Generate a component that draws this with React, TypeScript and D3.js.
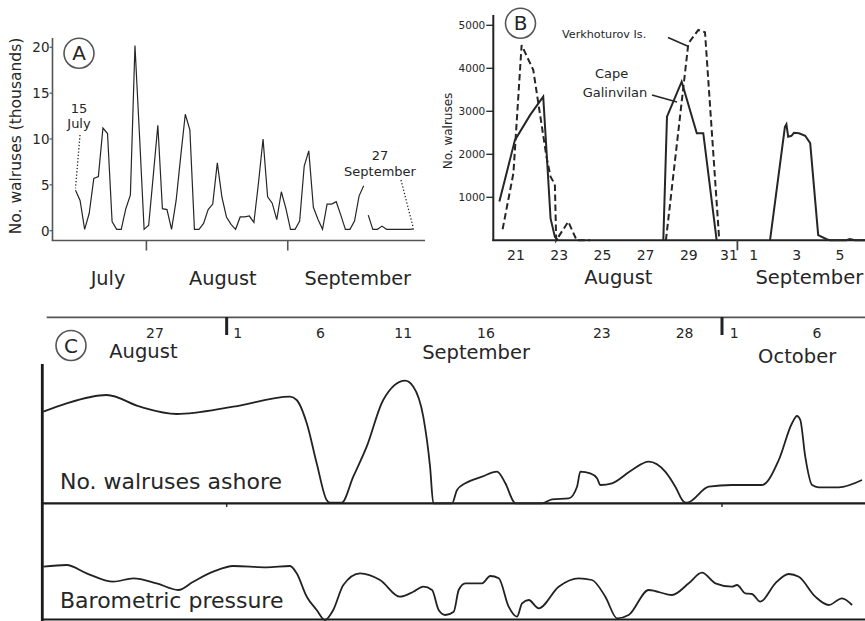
import React from 'react';
import * as d3 from 'd3';

// ---------- Panel A: daily counts, day index 0 = 15 July ----------
const aYTicks = [0, 5, 10, 15, 20];
const aMonths = ['July', 'August', 'September'];
const aMonthCenters = [7.1, 32.2, 61.7];
const aMonthBounds = [15.5, 46.4];
const aSeg1 = [
  4.4, 3.3, 0.15, 1.9, 5.7, 5.9, 11.2, 10.6, 1.0, 0.15,
  0.15, 2.4, 3.9, 20.2, 10.3, 0.15, 0.6, 6.0, 11.5, 2.4,
  2.3, 0.15, 3.3, 8.1, 12.7, 11.0, 0.15, 0.15, 0.8, 2.3,
  2.9, 7.4, 3.7, 1.5, 0.7, 0.15, 1.5, 1.5, 1.6, 0.9,
  5.2, 10.0, 3.7, 3.0, 1.2, 4.25, 2.4, 0.15, 0.15, 1.05,
  7.05, 8.7, 2.55, 1.24, 0.15, 2.9, 2.9, 3.16, 1.7, 0.15,
  0.15, 1.05, 3.8, 4.9,
];
const aSeg2Start = 64;
const aSeg2 = [1.7, 0.15, 0.15, 0.5, 0.15, 0.15, 0.15, 0.15, 0.15, 0.15, 0.2];
const aStartNote = ['15', 'July'];
const aEndNote = ['27', 'September'];

// ---------- Panel B: day numbers (Sep 1 = 32) ----------
const bYTicks = [1000, 2000, 3000, 4000, 5000];
const bDayTicks = [21, 23, 25, 27, 29, 31, 32, 34, 36];
const bDayLabels = ['21', '23', '25', '27', '29', '31', '1', '3', '5'];
const bMonthBound = 31.25;
const bMonths = ['August', 'September'];
const bMonthCenters = [25.74, 34.58];
const capeGalinvilan: [number, number][][] = [
  [[20.23, 900], [20.95, 2330], [21.65, 2910], [22.26, 3340], [22.41, 2100], [22.6, 510], [22.8, 80], [22.95, 0]],
  [[27.82, 0], [27.99, 2875], [28.67, 3690], [29.37, 2490], [29.67, 2490], [30.29, 0]],
  [[32.76, 0], [33.45, 2640], [33.52, 2700], [33.6, 2410], [33.75, 2430], [33.87, 2500], [34.1, 2490], [34.39, 2430],
    [34.62, 2260], [34.99, 120], [35.38, 25], [35.53, 0], [36.3, 0], [36.45, 30], [36.7, 0], [37.3, 0]],
];
const verkhoturov: [number, number][][] = [
  [[20.38, 256], [20.88, 1560], [21.26, 4540], [21.8, 3960], [22.41, 1945], [22.6, 1480], [22.8, 1300], [22.86, 0],
    [23.42, 433], [23.81, 0], [24.43, 0]],
  [[27.94, 0], [28.98, 4580], [29.44, 4890], [29.75, 4840], [30.41, 0]],
];

// ---------- Panel C: day offset from 27 August ----------
const cDayTicks = [0, 5, 10, 15, 20, 27, 32, 35, 40];
const cDayLabels = ['27', '1', '6', '11', '16', '23', '28', '1', '6'];
const cMonthBounds = [4.33, 34.26];
const cMonths = ['August', 'September', 'October'];
const cMonthCenters = [-0.7, 19.4, 38.8];
const walrusesAshore: [number, number][] = [
  [-6.75, 91.6], [-5.34, 100], [-2.92, 108.3], [-0.91, 96.6], [1.31, 89.3], [4.73, 96.6], [8.16, 106.6], [8.56, 103.3],
  [9.17, 80], [9.77, 40], [10.37, 3.3], [10.57, 0.6], [11.28, 0.6], [11.98, 26.6], [12.79, 56.6], [13.79, 103.3],
  [15.11, 122.6], [15.61, 116.6], [16.21, 86.6], [16.62, 36.6], [16.82, 0], [17.95, 0], [18.25, 13.3], [18.75, 20],
  [19.76, 26.6], [20.66, 31.6], [21.17, 20], [21.67, 1.6], [21.77, 0], [23.38, 0], [23.99, 4], [25, 5], [25.5, 16.6],
  [25.7, 31.6], [26.3, 30], [26.71, 25], [26.91, 18.3], [27.61, 20], [28.82, 33.3], [29.83, 41.6], [30.83, 31.6],
  [31.44, 16.6], [31.95, 1.6], [32.15, 0.6], [33.46, 16.6], [34.86, 18.3], [36.68, 18.3], [37.69, 43.3], [38.49, 80],
  [38.79, 87.3], [38.99, 83.3], [39.29, 46.6], [39.7, 18.3], [40.1, 16], [41.31, 16], [42.72, 23.3],
];
const barometricPressure: [number, number][] = [
  [-6.75, 53.3], [-5.34, 55], [-4.13, 46.7], [-2.52, 38.3], [-1.31, 41.7], [0.1, 36.7], [1.41, 30], [2.31, 38.3],
  [3.52, 48.3], [4.73, 54], [6.75, 52.7], [8.16, 54], [8.56, 46.7], [9.17, 23.3], [9.77, 10], [10.27, 0], [10.77, 10],
  [11.38, 35], [12.39, 46.7], [13.6, 40], [14.8, 23.3], [15.61, 28.3], [16.21, 33.3], [16.74, 30], [17.14, 10],
  [17.54, 5], [18.05, 8.3], [18.35, 30], [18.75, 36.7], [19.76, 36.7], [20.26, 44], [20.77, 41.7], [21.37, 13.3],
  [21.87, 3.3], [22.18, 16.7], [22.58, 20], [23.18, 11.7], [24.39, 33.3], [25.6, 41.7], [26.4, 40], [27.21, 23.3],
  [27.92, 1.7], [28.62, 5], [29.83, 30], [31.24, 25], [32.25, 36.7], [33.05, 47.3], [33.86, 36.7], [34.86, 33.3],
  [35.17, 35], [35.67, 26.7], [36.07, 26], [36.57, 18.3], [37.48, 36.7], [38.29, 46], [38.9, 43.3], [39.9, 23.3],
  [40.71, 15], [41.51, 21.7], [42.12, 15],
];

const FONT = '"DejaVu Sans", Verdana, sans-serif';
const INK = '#262626';

function Circled({ cx, cy, letter }: { cx: number; cy: number; letter: string }) {
  return (
    <g>
      <circle cx={cx} cy={cy} r={15} fill="none" stroke="#555" strokeWidth={1.6} />
      <text x={cx} y={cy + 7} textAnchor="middle" fontSize={20} fill={INK}>{letter}</text>
    </g>
  );
}

export default function App() {
  // Panel A scales
  const xA = d3.scaleLinear().domain([0, 74]).range([75.5, 414]);
  const yA = d3.scaleLinear().domain([0, 20]).range([230.7, 47.3]);
  const lineA = d3.line<[number, number]>().x(d => xA(d[0])).y(d => yA(d[1]));
  const a1: [number, number][] = aSeg1.map((v, i) => [i, v]);
  const a2: [number, number][] = aSeg2.map((v, i) => [aSeg2Start + i, v]);
  const aAxisY = 240.5;
  const aAxisX = 52.5;

  // Panel B scales
  const xB = d3.scaleLinear().domain([21, 36]).range([516, 840]);
  const yB = d3.scaleLinear().domain([0, 5000]).range([240.3, 25.3]);
  const lineB = d3.line<[number, number]>().x(d => xB(d[0])).y(d => yB(d[1]));
  const bAxisX = 493.3;

  // Panel C scales
  const xC = d3.scaleLinear().domain([0, 40]).range([155, 817]);
  const yCW = d3.scaleLinear().domain([0, 100]).range([503.3, 403.3]);
  const yCP = d3.scaleLinear().domain([0, 100]).range([620, 520]);
  const lineCW = d3.line<[number, number]>().x(d => xC(d[0])).y(d => yCW(d[1])).curve(d3.curveMonotoneX);
  const lineCP = d3.line<[number, number]>().x(d => xC(d[0])).y(d => yCP(d[1])).curve(d3.curveMonotoneX);

  return (
    <svg width={865} height={621} style={{ position: 'absolute', left: 0, top: 0, display: 'block', background: '#fff' }}
      fontFamily={FONT}>
      <rect x={0} y={0} width={865} height={621} fill="#fff" />

      {/* ================= Panel A ================= */}
      <g>
        <line x1={aAxisX} y1={38} x2={aAxisX} y2={aAxisY} stroke="#555" strokeWidth={1.6} />
        <line x1={aAxisX - 0.8} y1={aAxisY} x2={425} y2={aAxisY} stroke="#555" strokeWidth={1.6} />
        {aYTicks.map(t => (
          <g key={t}>
            <line x1={aAxisX - 3} x2={aAxisX} y1={yA(t)} y2={yA(t)} stroke="#555" strokeWidth={1.2} />
            <text x={aAxisX - 3} y={yA(t) + 4.8} textAnchor="end" fontSize={13.5} fill={INK}>{t}</text>
          </g>
        ))}
        {aMonthBounds.map((b, i) => (
          <line key={i} x1={xA(b)} x2={xA(b)} y1={aAxisY} y2={aAxisY + 10} stroke="#555" strokeWidth={1.6} />
        ))}
        {aMonths.map((m, i) => (
          <text key={m} x={xA(aMonthCenters[i])} y={285} textAnchor="middle" fontSize={19.3} fill={INK}>{m}</text>
        ))}
        <text transform="translate(20.5,136) rotate(-90)" textAnchor="middle" fontSize={15.5} fill={INK}>
          No. walruses (thousands)
        </text>
        <path d={lineA(a1) || ''} fill="none" stroke={INK} strokeWidth={1.2} strokeLinejoin="miter" />
        <path d={lineA(a2) || ''} fill="none" stroke={INK} strokeWidth={1.2} />
        {/* annotations */}
        <text x={xA(0) + 3.5} y={113} textAnchor="middle" fontSize={13} fill={INK}>{aStartNote[0]}</text>
        <text x={xA(0) + 3.5} y={128} textAnchor="middle" fontSize={13} fill={INK}>{aStartNote[1]}</text>
        <line x1={xA(0) + 4.5} y1={135} x2={xA(0)} y2={yA(aSeg1[0]) - 2} stroke={INK} strokeWidth={1.3}
          strokeDasharray="1.3,2" />
        <text x={380} y={160} textAnchor="middle" fontSize={13} fill={INK}>{aEndNote[0]}</text>
        <text x={380} y={175.5} textAnchor="middle" fontSize={13} fill={INK}>{aEndNote[1]}</text>
        <line x1={401} y1={180} x2={xA(74) - 1} y2={yA(aSeg2[aSeg2.length - 1]) - 2} stroke={INK} strokeWidth={1.3}
          strokeDasharray="1.3,2" />
        <Circled cx={79} cy={53.3} letter="A" />
      </g>

      {/* ================= Panel B ================= */}
      <g>
        <line x1={bAxisX} y1={15} x2={bAxisX} y2={241} stroke="#222" strokeWidth={2} />
        <line x1={bAxisX - 1} y1={yB(0)} x2={865} y2={yB(0)} stroke="#222" strokeWidth={2} />
        {bYTicks.map(t => (
          <g key={t}>
            <line x1={bAxisX - 7} x2={bAxisX} y1={yB(t)} y2={yB(t)} stroke="#222" strokeWidth={1.3} />
            <text x={bAxisX - 8} y={yB(t) + 3.8} textAnchor="end" fontSize={10.5} fill={INK}>{t}</text>
          </g>
        ))}
        <line x1={xB(bMonthBound)} x2={xB(bMonthBound)} y1={yB(0)} y2={yB(0) + 10} stroke="#444" strokeWidth={1.8} />
        {bDayTicks.map((d, i) => (
          <text key={i} x={xB(d) - (bDayLabels[i] === '31' ? 3 : 0)} y={260} textAnchor="middle" fontSize={14}
            fill={INK}>{bDayLabels[i]}</text>
        ))}
        {bMonths.map((m, i) => (
          <text key={m} x={xB(bMonthCenters[i])} y={283.5} textAnchor="middle" fontSize={19.5} fill={INK}>{m}</text>
        ))}
        <text transform="translate(452,131) rotate(-90)" textAnchor="middle" fontSize={12} fill={INK}>No. walruses</text>
        {verkhoturov.map((seg, i) => (
          <path key={'v' + i} d={lineB(seg) || ''} fill="none" stroke={INK} strokeWidth={2} strokeDasharray="6.5,3.5" />
        ))}
        {capeGalinvilan.map((seg, i) => (
          <path key={'c' + i} d={lineB(seg) || ''} fill="none" stroke={INK} strokeWidth={2} />
        ))}
        <text x={562} y={37.5} fontSize={11.2} fill={INK}>Verkhoturov Is.</text>
        <line x1={668} y1={37.5} x2={xB(28.98) - 1} y2={yB(4540) + 1} stroke={INK} strokeWidth={1.6} />
        <text x={611.7} y={78} textAnchor="middle" fontSize={13} fill={INK}>Cape</text>
        <text x={615} y={96.5} textAnchor="middle" fontSize={13} fill={INK}>Galinvilan</text>
        <line x1={652} y1={95} x2={677} y2={102} stroke={INK} strokeWidth={1.6} />
        <Circled cx={520.5} cy={23.3} letter="B" />
      </g>

      {/* ================= Panel C ================= */}
      <g>
        <line x1={46.7} y1={317.3} x2={865} y2={317.3} stroke="#555" strokeWidth={1.8} />
        {cMonthBounds.map((b, i) => (
          <g key={i}>
            <line x1={xC(b)} x2={xC(b)} y1={317} y2={335} stroke="#222" strokeWidth={3} />
            <line x1={xC(b)} x2={xC(b)} y1={503} y2={507} stroke="#333" strokeWidth={1.5} />
          </g>
        ))}
        {cDayTicks.map((d, i) => (
          <text key={i} x={xC(d)} y={338.2} textAnchor="middle" fontSize={14} fill={INK}>{cDayLabels[i]}</text>
        ))}
        <text x={xC(cMonthCenters[0])} y={358.3} textAnchor="middle" fontSize={19.5} fill={INK}>{cMonths[0]}</text>
        <text x={xC(cMonthCenters[1])} y={359} textAnchor="middle" fontSize={19.5} fill={INK}>{cMonths[1]}</text>
        <text x={xC(cMonthCenters[2])} y={363.3} textAnchor="middle" fontSize={19.5} fill={INK}>{cMonths[2]}</text>
        <Circled cx={71} cy={345.5} letter="C" />

        <line x1={42.3} y1={364} x2={42.3} y2={621} stroke="#1a1a1a" strokeWidth={2.8} />
        <line x1={41} y1={yCW(0)} x2={865} y2={yCW(0)} stroke="#1a1a1a" strokeWidth={2.2} />
        <line x1={41} y1={619.5} x2={865} y2={619.5} stroke="#1a1a1a" strokeWidth={2.2} />

        <path d={lineCW(walrusesAshore) || ''} fill="none" stroke="#222" strokeWidth={1.8} />
        <path d={lineCP(barometricPressure) || ''} fill="none" stroke="#222" strokeWidth={1.8} />
        <text x={60} y={489.3} fontSize={22} fill={INK}>No. walruses ashore</text>
        <text x={60} y={608.3} fontSize={22} fill={INK}>Barometric pressure</text>
      </g>
    </svg>
  );
}
